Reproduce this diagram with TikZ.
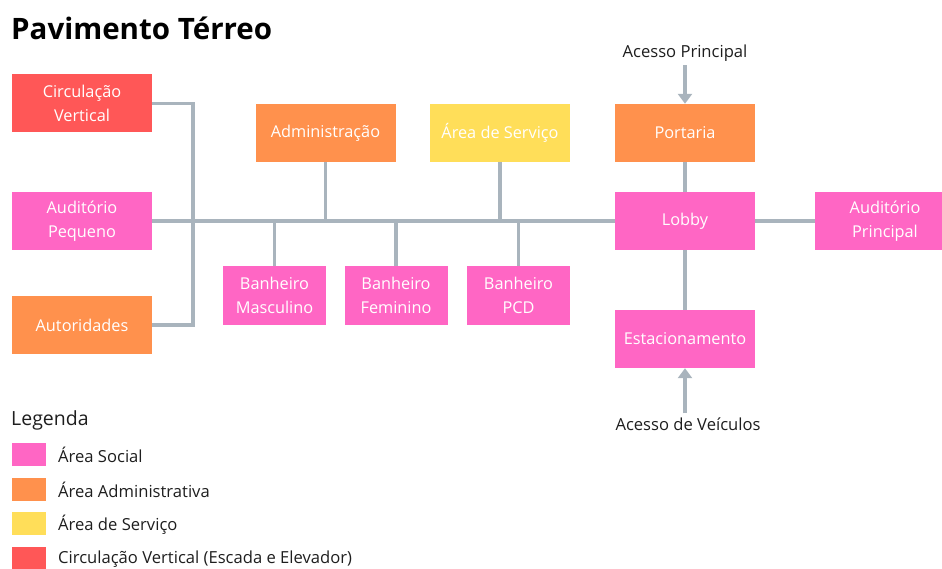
\documentclass[tikz,border=0pt]{standalone}
\usepackage{fontspec}
\setmainfont{Open Sans}
\usepackage{tikz}
\usetikzlibrary{arrows.meta}

\definecolor{social}{HTML}{FF66C4}
\definecolor{admin}{HTML}{FF914D}
\definecolor{servico}{HTML}{FFDE59}
\definecolor{circ}{HTML}{FF5757}
\definecolor{linha}{HTML}{A9B4BD}
\definecolor{texto}{HTML}{1E1E1E}

\begin{document}
\begin{tikzpicture}[x=1pt, y=-1pt,
	room/.style={fill=#1, text=white, minimum width=140pt, minimum height=58pt, inner sep=0pt, align=center, font=\fontsize{16.3}{24}\selectfont},
	bath/.style={room=social, minimum width=103pt},
	link/.style={draw=linha, line width=3.2pt},
	entry/.style={link, -{Triangle[width=14pt,length=10pt]}},
	label/.style={text=texto, font=\fontsize{16.6}{19}\selectfont, inner sep=1pt}]
	\useasboundingbox (0,0) rectangle (942,569);
	\node[anchor=base west, inner sep=0pt, text=black, font=\fontsize{29.5}{33}\selectfont\bfseries] (titulo) at (11,40) {Pavimento Térreo};
	% ambientes
	\node[room=circ] (circv) at (82,103.5) {Circulação\\Vertical};
	\node[room=social] (audp) at (82,221) {Auditório\\Pequeno};
	\node[room=admin] (autor) at (82,325) {Autoridades};
	\node[room=admin] (adm) at (325.5,133) {Administração};
	\node[room=servico] (serv) at (500,133) {Área de Serviço};
	\node[bath] (banm) at (274.5,295.5) {Banheiro\\Masculino};
	\node[bath] (banf) at (396,295.5) {Banheiro\\Feminino};
	\node[bath] (banp) at (518.5,295.5) {Banheiro\\PCD};
	\node[room=admin] (port) at (685,133) {Portaria};
	\node[room=social] (lobby) at (685,221) {Lobby};
	\node[room=social] (audpr) at (885,221) {Auditório\\Principal};
	\node[room=social] (estac) at (685,339) {Estacionamento};
	\node[label] (acp) at (685,53) {Acesso Principal};
	\node[label] (acv) at (688,424) {Acesso de Veículos};
	% ligacoes
	\coordinate (bus) at (193,221);
	\draw[link] (circv.east) -| (bus) |- (autor.east);
	\draw[link] (audp.east) -- (lobby.west);
	\draw[link] (adm.south) -- (adm.south |- lobby.west);
	\draw[link] (serv.south) -- (serv.south |- lobby.west);
	\draw[link] (banm.north) -- (banm.north |- lobby.west);
	\draw[link] (banf.north) -- (banf.north |- lobby.west);
	\draw[link] (banp.north) -- (banp.north |- lobby.west);
	\draw[link] (port) -- (lobby);
	\draw[link] (lobby) -- (audpr);
	\draw[link] (lobby) -- (estac);
	\draw[entry] (acp.south -| port.north) ++(0,3) -- (port.north);
	\draw[entry] (acv.north -| estac.south) ++(0,-3) -- (estac.south);
	% legenda
	\node[anchor=base west, inner sep=0pt, text=texto, font=\fontsize{19.5}{22}\selectfont] (leg) at (11,425) {Legenda};
	\foreach \cor/\nome [count=\i] in {social/Área Social, admin/Área Administrativa, servico/Área de Serviço, circ/Circulação Vertical (Escada e Elevador)} {
		\node[fill=\cor, minimum width=34pt, minimum height=23pt, inner sep=0pt] (cor\i) at (29,419.8+34.7*\i) {};
		\node[label, anchor=west] (nome\i) at (57,420.5+34.7*\i) {\nome};
	}
\end{tikzpicture}
\end{document}
